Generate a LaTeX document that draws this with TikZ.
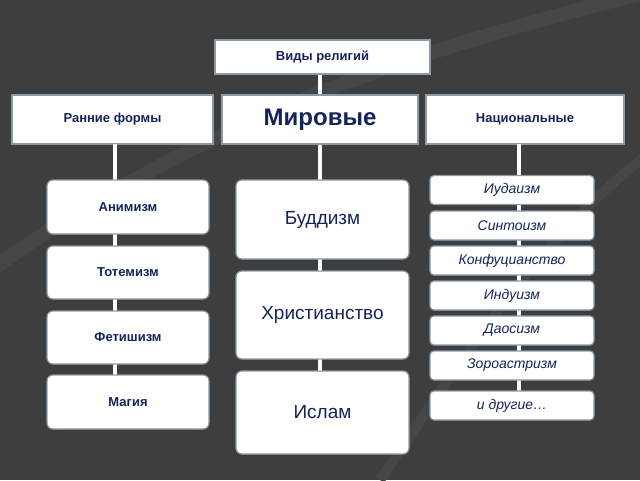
\documentclass[tikz,border=0pt]{standalone}
\usepackage{fontspec}
\setmainfont{Liberation Sans}
\definecolor{bg}{HTML}{3E3E3E}
\definecolor{bg2}{HTML}{464646}
\definecolor{txt}{HTML}{14245A}
\definecolor{bd}{HTML}{8A9AA8}
\begin{document}
\begin{tikzpicture}[x=1pt,y=-1pt,
  box/.style={draw=bd,line width=1.2pt,fill=white,text=txt,inner sep=0pt},
  rbox/.style={box,rounded corners=6pt},
  lab/.style={font=\bfseries\fontsize{13}{15}\selectfont},
  big/.style={font=\fontsize{19}{22}\selectfont},
  ital/.style={font=\itshape\fontsize{14}{16}\selectfont},
  link/.style={white,line width=3.5pt}]
\useasboundingbox (0,0) rectangle (640,480);
\fill[bg] (0,0) rectangle (640,480);
\begin{scope}
\clip (0,0) rectangle (640,480);
\draw[bg2,line width=14pt] (-50,300) .. controls (150,150) and (350,60) .. (700,-20);
\draw[bg2,line width=10pt] (380,480) .. controls (470,350) and (560,200) .. (700,120);
\end{scope}
% containers
\node[box,minimum width=215,minimum height=34,lab] (top) at (322.5,57) {Виды религий};
\node[box,minimum width=201,minimum height=49,lab] (early) at (112.5,119.5) {Ранние формы};
\node[box,minimum width=196,minimum height=49,font=\bfseries\fontsize{24}{28}\selectfont] (world) at (320,119.5) {Мировые};
\node[box,minimum width=198,minimum height=49,lab] (nat) at (525,119.5) {Национальные};
\coordinate (le) at (115,400);
\coordinate (me) at (320,400);
\coordinate (re) at (519,400);
\draw[link] (top.south -| world.north) -- (world.north);
\draw[link] (115,144) -- (le);
\draw[link] (world.south) -- (me);
\draw[link] (519,144) -- (re);
% left
\node[rbox,minimum width=162,minimum height=54,lab] (a1) at (128,207) {Анимизм};
\node[rbox,minimum width=162,minimum height=53,lab] (a2) at (128,272.5) {Тотемизм};
\node[rbox,minimum width=162,minimum height=53,lab] (a3) at (128,337.5) {Фетишизм};
\node[rbox,minimum width=162,minimum height=54,lab] (a4) at (128,402) {Магия};
% middle
\node[rbox,minimum width=173,minimum height=79,big] (b1) at (322.5,219.5) {Буддизм};
\node[rbox,minimum width=173,minimum height=88,big] (b2) at (322.5,315) {Христианство};
\node[rbox,minimum width=173,minimum height=83,big] (b3) at (322.5,412.5) {Ислам};
% right
\foreach \n/\t/\y in {c1/Иудаизм/190, c2/Синтоизм/225.5, c3/Конфуцианство/260.5, c4/Индуизм/295.5, c5/Даосизм/330.5, c6/Зороастризм/365.5, c7/и другие…/405.5}
  \node[rbox,rounded corners=4pt,minimum width=164,minimum height=29,ital] (\n) at (512,\y) {\t};
\end{tikzpicture}
\end{document}
